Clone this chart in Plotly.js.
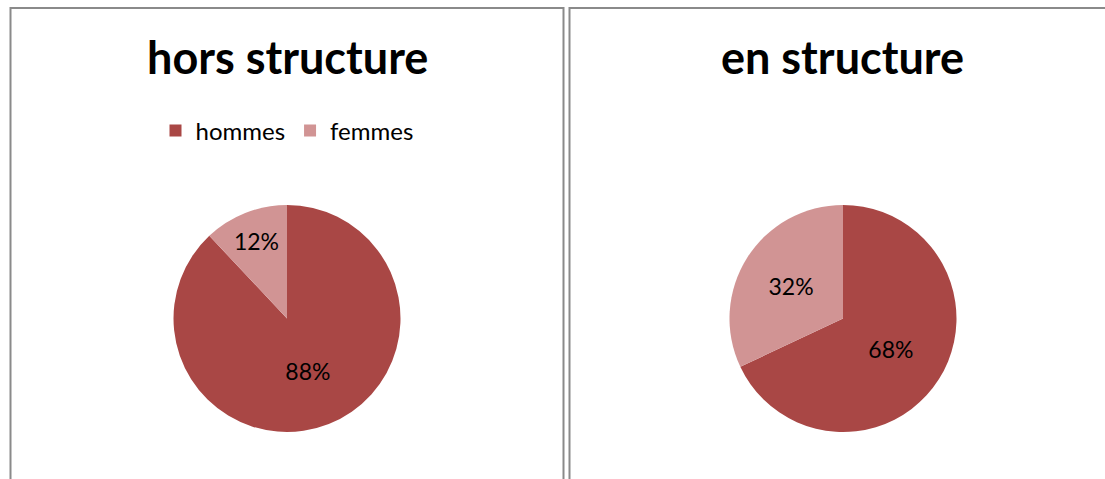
<!DOCTYPE html>
<html><head><meta charset="utf-8">
<script src="https://cdn.plot.ly/plotly-3.0.1.min.js"></script>
<style>html,body{margin:0;padding:0;background:#fff}#chart{width:1105px;height:479px}</style>
</head><body><div id="chart"></div>
<script>
const categories = ["hommes", "femmes"];
const horsStructure = [88, 12];
const enStructure = [68, 32];
const panelTitles = ["hors structure", "en structure"];
const colors = ["#A94745", "#D19494"];
const W = 1105, H = 479;
const px = v => v / W, py = v => (H - v) / H;
const R = 113.5;
function pie(values, cx, cy, legendName) {
  return {
    type: "pie", labels: categories, values: values, sort: false,
    direction: "clockwise", rotation: 0, hole: 0,
    marker: {colors: colors, line: {width: 0}},
    textinfo: "percent", texttemplate: "%{percent:.0%}", textposition: "inside",
    insidetextorientation: "horizontal",
    textfont: {family: "Lato, sans-serif", size: 23, color: "#000"},
    domain: {x: [px(cx - R), px(cx + R)], y: [py(cy + R), py(cy - R)]},
    legend: legendName, hoverinfo: "label+percent"
  };
}
const data = [pie(horsStructure, 287, 318.5, "legend"), pie(enStructure, 843, 318.5, "legend2")];
const legendBase = {orientation: "h", xanchor: "center", yanchor: "middle",
  font: {family: "Lato, sans-serif", size: 24, color: "#000"}, itemwidth: 30, tracegroupgap: 0, bgcolor: "rgba(0,0,0,0)"};
const titleFont = {family: "Lato, sans-serif", size: 45, color: "#000", weight: "bold"};
const layout = {
  width: W, height: H, margin: {l: 0, r: 0, t: 0, b: 0},
  paper_bgcolor: "#fff", plot_bgcolor: "#fff",
  showlegend: true,
  legend: Object.assign({}, legendBase, {x: px(287), y: py(131)}),
  legend2: Object.assign({}, legendBase, {x: px(842), y: py(131)}),
  annotations: [
    {text: panelTitles[0], x: px(287), y: py(57), xref: "paper", yref: "paper", showarrow: false,
     font: titleFont, xanchor: "center", yanchor: "middle"},
    {text: panelTitles[1], x: px(842), y: py(57), xref: "paper", yref: "paper", showarrow: false,
     font: titleFont, xanchor: "center", yanchor: "middle"}
  ],
  shapes: [
    {type: "rect", xref: "paper", yref: "paper", x0: px(10.5), x1: px(563.5), y0: py(485), y1: py(8), line: {color: "#8a8a8a", width: 2}},
    {type: "rect", xref: "paper", yref: "paper", x0: px(569.5), x1: px(1115), y0: py(485), y1: py(8), line: {color: "#8a8a8a", width: 2}}
  ]
};
Plotly.newPlot("chart", data, layout, {displayModeBar: false, staticPlot: true});
</script></body></html>
